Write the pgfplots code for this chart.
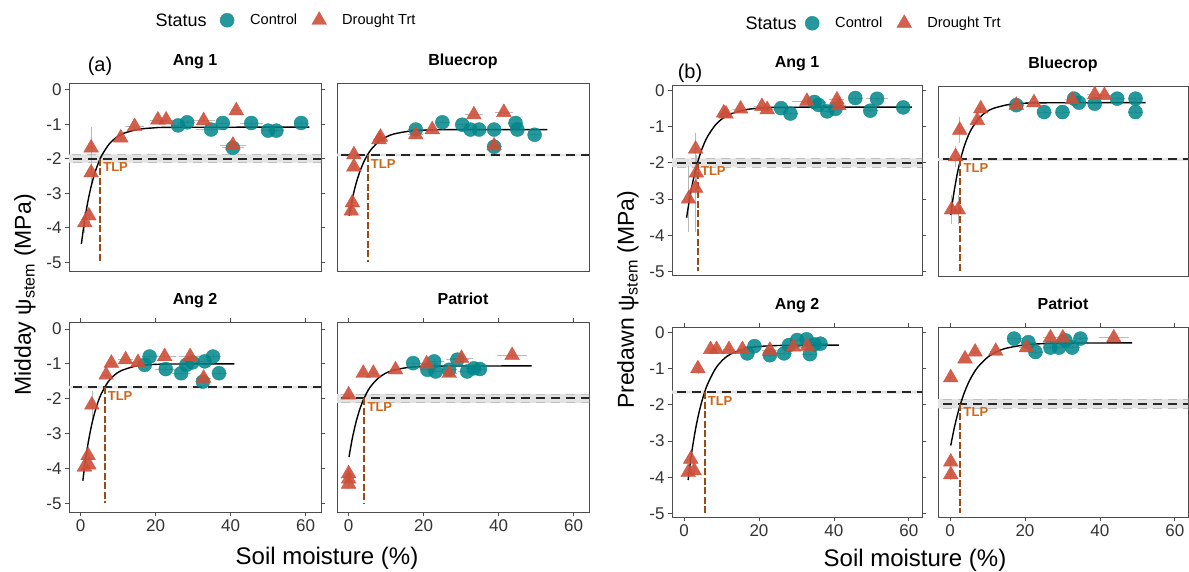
\documentclass[border=0pt]{standalone}
\usepackage{fontspec}
\setmainfont{Liberation Sans}
\usepackage{pgfplots}
\pgfplotsset{compat=1.18}
\definecolor{ctrlc}{RGB}{0,134,139}
\definecolor{trtc}{RGB}{205,79,57}
\definecolor{tlpt}{RGB}{204,102,25}
\definecolor{tlpl}{RGB}{156,74,18}
\definecolor{framec}{RGB}{77,77,77}
\tikzset{tlplab/.style={anchor=north west, xshift=2pt, yshift=-3pt, inner sep=1pt, font=\fontsize{13}{15}\selectfont\bfseries, text=tlpt}}
\pgfplotsset{
  panel/.style={scale only axis, anchor=south west,
    axis line style={framec, line width=0.8pt},
    tick style={framec, line width=0.8pt}, tick align=outside, major tick length=4pt,
    xtick={0,20,40,60}, ytick={0,-1,-2,-3,-4,-5},
    /pgf/number format/assume math mode=true,
    ticklabel style={font=\fontsize{17}{19}\selectfont, text=black!80},
    title style={at={(0.5,1)}, anchor=base, yshift=11pt, font=\fontsize{16}{18}\selectfont\bfseries},
    legend columns=-1, legend cell align=left,
    legend image code/.code={\draw[##1] plot coordinates {(0pt,0pt)}; \path[draw=none, fill=none] (-8pt,-6pt) (21pt,6pt);}},
  pa/.style={panel, width=252pt, xmin=-3.1, xmax=64.1, ymin=-5.25, ymax=0.2},
  pb/.style={panel, width=250pt, height=190pt, xmin=-3.2, xmax=63.5, ymin=-5.1, ymax=0.15},
  ctrl/.style={only marks, mark=*, mark size=7pt, color=ctrlc,
    mark options={fill=ctrlc, draw=ctrlc, opacity=0.85},
    error bars/x dir=both, error bars/x explicit, error bars/y dir=both, error bars/y explicit,
    error bars/error mark=none, error bars/error bar style={gray!55, line width=0.7pt, opacity=1}},
  trt/.style={only marks, mark=triangle*, mark size=8.5pt, color=trtc,
    mark options={fill=trtc, draw=trtc, opacity=0.9},
    error bars/x dir=both, error bars/x explicit, error bars/y dir=both, error bars/y explicit,
    error bars/error mark=none, error bars/error bar style={gray!55, line width=0.7pt, opacity=1}},
  fitc/.style={black, line width=1.4pt, smooth, no marks, forget plot},
  tlph/.style={black!85, line width=2pt, dash pattern=on 9pt off 6pt, no marks, forget plot},
  tlpv/.style={tlpl, line width=2pt, dash pattern=on 7pt off 2.5pt, no marks, forget plot},
  band/.style={draw=gray!50, dash pattern=on 9pt off 6pt, line width=0.8pt, fill=gray!22, no marks, forget plot},
  nband/.style={draw=none, fill=gray!20, no marks, forget plot},
  legst/.style={legend style={draw=none, fill=none, at={#1}, anchor=west, inner sep=0pt,
    font=\fontsize{14.6}{16}\selectfont, /tikz/every even column/.append style={column sep=12pt}}},
}
\begin{document}
\begin{tikzpicture}
\useasboundingbox (0,0) rectangle (1189pt,572pt);

% ===== (a) Ang 1 =====
\begin{axis}[pa, height=188pt, at={(69pt,301pt)}, xtick=\empty, title={Ang 1}, legst={(0.595,1.335)}]
\addplot[band] coordinates {(-10,-2.11) (80,-2.11) (80,-1.87) (-10,-1.87) (-10,-2.11)};
\addplot[ctrl] coordinates {
(26,-1.03) +- (2,0.06) (28.4,-0.94) +- (2,0.06) (34.8,-1.15) +- (4,0.08) (37.9,-0.96) +- (2,0.06)
(40.6,-1.68) +- (3,0.06) (45.5,-0.96) +- (3,0.05) (50,-1.18) +- (2,0.05) (52.2,-1.18) +- (2,0.05)
(58.8,-0.96) +- (2,0.05)};
\addlegendentry{Control}
\addplot[trt] coordinates {
(1.1,-3.85) +- (0.5,0.3) (2.2,-3.65) +- (0.5,0.2) (2.8,-2.4) +- (0.5,0.3) (2.8,-1.68) +- (0.5,0.6)
(10.7,-1.39) +- (1.5,0.08) (14.4,-1.06) +- (2.5,0.08) (20.6,-0.87) +- (2,0.06) (22.8,-0.87) +- (2,0.06)
(32.8,-0.89) +- (3,0.08) (40.6,-1.6) +- (3.5,0.08) (41.5,-0.6) +- (1.5,0.05)};
\addlegendentry{Drought Trt}
\addplot[fitc] coordinates {(0.2,-4.47) (0.958,-3.86) (1.916,-3.245) (2.874,-2.766) (3.831,-2.393) (4.789,-2.103) (5.747,-1.877) (7.663,-1.563) (9.579,-1.373) (11.49,-1.258) (15.33,-1.145) (19.16,-1.104) (24.9,-1.085) (61,-1.08)};
\addplot[tlph] coordinates {(-10,-1.99) (80,-1.99)};
\addplot[tlpv] coordinates {(5.2,-1.99) (5.2,-5)};
\node[tlplab] at (axis cs:5.2,-1.99) {TLP};
\end{axis}

% ===== (a) Bluecrop =====
\begin{axis}[pa, height=188pt, at={(337pt,301pt)}, xtick=\empty, ytick=\empty, title={Bluecrop}]
\addplot[nband] coordinates {(-10,-1.93) (80,-1.93) (80,-1.85) (-10,-1.85) (-10,-1.93)};
\addplot[ctrl] coordinates {
(17.9,-1.15) +- (2,0.06) (25,-0.94) +- (2,0.06) (30.3,-1.01) +- (2,0.06) (32.5,-1.15) +- (2.5,0.06)
(34.8,-1.15) +- (2,0.06) (38.8,-1.15) +- (2,0.06) (38.8,-1.65) +- (2,0.06) (44.5,-0.96) +- (2,0.06)
(45,-1.15) +- (2,0.06) (49.6,-1.30) +- (1.5,0.06)};
\addplot[trt] coordinates {
(0.7,-3.51) +- (0.4,0.15) (1.0,-3.27) +- (0.4,0.15) (1.4,-2.23) +- (0.4,0.1) (1.4,-1.88) +- (0.4,0.1)
(8.1,-1.44) +- (1.5,0.06) (8.5,-1.37) +- (1.5,0.06) (17.9,-1.30) +- (2,0.08) (22.3,-1.15) +- (2,0.06)
(33.4,-0.72) +- (2.5,0.08) (41.4,-0.65) +- (2.5,0.05) (38.8,-1.62) +- (1.5,0.05)};
\addplot[fitc] coordinates {(0.1,-3.647) (1.008,-3.144) (2.016,-2.703) (3.024,-2.359) (4.032,-2.092) (5.04,-1.883) (6.048,-1.721) (8.065,-1.496) (10.08,-1.36) (12.1,-1.277) (16.13,-1.197) (20.16,-1.167) (26.2,-1.154) (53,-1.15)};
\addplot[tlph] coordinates {(-10,-1.89) (80,-1.89)};
\addplot[tlpv] coordinates {(5.1,-1.89) (5.1,-5)};
\node[tlplab] at (axis cs:5.1,-1.89) {TLP};
\end{axis}

% ===== (a) Ang 2 =====
\begin{axis}[pa, height=190pt, at={(69pt,60pt)}, title={Ang 2}]
\addplot[nband] coordinates {(-10,-1.71) (80,-1.71) (80,-1.63) (-10,-1.63) (-10,-1.71)};
\addplot[ctrl] coordinates {
(17.1,-1.03) +- (2,0.06) (18.4,-0.79) +- (2,0.06) (22.7,-1.15) +- (3,0.06) (26.8,-1.27) +- (2.5,0.06)
(28.2,-1.03) +- (2,0.06) (29.8,-0.96) +- (2,0.06) (33.1,-0.93) +- (2,0.06) (35.3,-0.79) +- (2,0.06)
(36.9,-1.27) +- (2,0.06) (32.6,-1.51) +- (1.5,0.06)};
\addplot[trt] coordinates {
(1.0,-3.96) +- (0.4,0.1) (2.2,-3.9) +- (0.4,0.1) (2.0,-3.63) +- (0.4,0.1) (3.0,-2.18) +- (0.4,0.4)
(6.8,-1.32) +- (1,0.08) (8.2,-0.98) +- (1,0.06) (12,-0.88) +- (2,0.06) (15.3,-0.96) +- (2,0.06)
(22.4,-0.79) +- (3,0.06) (29.2,-0.79) +- (3,0.06) (32.8,-1.41) +- (2,0.06)};
\addplot[fitc] coordinates {(0.6,-4.353) (0.901,-4.084) (1.802,-3.402) (2.703,-2.871) (3.604,-2.457) (4.505,-2.135) (5.405,-1.883) (7.207,-1.536) (9.009,-1.325) (10.81,-1.197) (14.41,-1.072) (18.02,-1.027) (23.4,-1.006) (41,-1.0)};
\addplot[tlph] coordinates {(-10,-1.67) (80,-1.67)};
\addplot[tlpv] coordinates {(6.4,-1.67) (6.4,-5)};
\node[tlplab] at (axis cs:6.4,-1.67) {TLP};
\end{axis}

% ===== (a) Patriot =====
\begin{axis}[pa, height=190pt, at={(337pt,60pt)}, ytick=\empty, title={Patriot}]
\addplot[band] coordinates {(-10,-2.12) (80,-2.12) (80,-1.87) (-10,-1.87) (-10,-2.12)};
\addplot[ctrl] coordinates {
(17.2,-0.98) +- (2,0.06) (21,-1.17) +- (2,0.06) (22.8,-0.93) +- (2.5,0.06) (23.2,-1.22) +- (2,0.06)
(26.8,-1.17) +- (2,0.06) (29,-0.88) +- (3,0.06) (31.6,-1.22) +- (2.5,0.06) (33.4,-1.13) +- (2,0.06)
(35,-1.15) +- (2,0.06)};
\addplot[trt] coordinates {
(0,-1.89) +- (0.5,0.1) (0,-4.15) +- (0.3,0.15) (0,-4.3) +- (0.3,0.15) (0,-4.45) +- (0.3,0.15)
(3.9,-1.27) +- (1,0.06) (6.6,-1.27) +- (1,0.06) (12.5,-1.17) +- (1.5,0.06) (20.8,-1.0) +- (3,0.06)
(26.8,-1.27) +- (2,0.06) (30.1,-0.84) +- (3,0.06) (43.6,-0.76) +- (4,0.06)};
\addplot[fitc] coordinates {(0.1,-3.672) (0.969,-3.147) (1.938,-2.685) (2.907,-2.326) (3.876,-2.046) (4.845,-1.828) (5.814,-1.658) (7.752,-1.423) (9.69,-1.28) (11.63,-1.193) (15.5,-1.109) (19.38,-1.078) (25.2,-1.064) (48.8,-1.06)};
\addplot[tlph] coordinates {(-10,-1.99) (80,-1.99)};
\addplot[tlpv] coordinates {(4.2,-1.99) (4.2,-5)};
\node[tlplab] at (axis cs:4.2,-1.99) {TLP};
\end{axis}

% ===== (b) Ang 1 =====
\begin{axis}[pb, at={(672pt,297pt)}, xtick=\empty, title={Ang 1}, legst={(0.528,1.326)}]
\addplot[band] coordinates {(-10,-2.12) (80,-2.12) (80,-1.88) (-10,-1.88) (-10,-2.12)};
\addplot[ctrl] coordinates {
(25.9,-0.49) +- (2,0.05) (28.4,-0.64) +- (2,0.05) (34.8,-0.32) +- (3,0.05) (35.9,-0.40) +- (2,0.05)
(38.2,-0.58) +- (2,0.05) (40.4,-0.51) +- (2,0.05) (45.7,-0.21) +- (2,0.05) (49.7,-0.56) +- (2,0.05)
(51.5,-0.23) +- (3,0.05) (58.5,-0.47) +- (2,0.05)};
\addlegendentry{Control}
\addplot[trt] coordinates {
(1.2,-3.0) +- (0.5,0.9) (3.1,-2.7) +- (0.5,1.2) (3.3,-2.28) +- (0.5,0.5) (3.1,-1.62) +- (0.5,0.45)
(10.6,-0.62) +- (1.5,0.08) (11.2,-0.65) +- (1.5,0.08) (15.1,-0.51) +- (2,0.06) (20.8,-0.44) +- (2,0.06)
(22.2,-0.53) +- (2,0.06) (32.8,-0.30) +- (4,0.05) (40.8,-0.26) +- (2,0.05) (41.3,-0.42) +- (2,0.05)};
\addlegendentry{Drought Trt}
\addplot[fitc] coordinates {(0.7,-3.518) (1.055,-3.271) (2.11,-2.65) (3.165,-2.165) (4.219,-1.788) (5.274,-1.494) (6.329,-1.265) (8.439,-0.948) (10.55,-0.756) (12.66,-0.64) (16.88,-0.526) (21.1,-0.484) (27.4,-0.465) (60.8,-0.46)};
\addplot[tlph] coordinates {(-10,-2.0) (80,-2.0)};
\addplot[tlpv] coordinates {(3.7,-2.0) (3.7,-5)};
\node[tlplab] at (axis cs:3.7,-2.0) {TLP};
\end{axis}

% ===== (b) Bluecrop =====
\begin{axis}[pb, at={(938pt,296pt)}, xtick=\empty, ytick=\empty, title={Bluecrop}]
\addplot[nband] coordinates {(-10,-1.92) (80,-1.92) (80,-1.84) (-10,-1.84) (-10,-1.92)};
\addplot[ctrl] coordinates {
(17.7,-0.38) +- (2,0.05) (25.1,-0.57) +- (2,0.05) (30,-0.57) +- (2,0.05) (33.1,-0.20) +- (2,0.05)
(34.4,-0.31) +- (2,0.05) (38.6,-0.34) +- (2,0.05) (44.6,-0.20) +- (2,0.05) (49.5,-0.20) +- (2,0.05)
(49.5,-0.57) +- (2,0.05)};
\addplot[trt] coordinates {
(0.4,-3.27) +- (0.5,0.4) (2.2,-3.27) +- (0.5,0.4) (1.5,-1.80) +- (0.5,0.3) (2.6,-1.07) +- (0.5,0.35)
(7.3,-0.80) +- (1,0.1) (8.2,-0.48) +- (1,0.08) (17.7,-0.38) +- (2,0.05) (22.4,-0.31) +- (2,0.05)
(32.6,-0.23) +- (2,0.05) (38.6,-0.09) +- (2,0.05) (41.2,-0.11) +- (2,0.05)};
\addplot[fitc] coordinates {(0.2,-3.413) (0.954,-2.857) (1.908,-2.293) (2.863,-1.855) (3.817,-1.513) (4.771,-1.247) (5.725,-1.04) (7.634,-0.752) (9.542,-0.578) (11.45,-0.473) (15.27,-0.37) (19.08,-0.332) (24.8,-0.315) (52.2,-0.31)};
\addplot[tlph] coordinates {(-10,-1.88) (80,-1.88)};
\addplot[tlpv] coordinates {(2.8,-1.88) (2.8,-5)};
\node[tlplab] at (axis cs:2.8,-1.88) {TLP};
\end{axis}

% ===== (b) Ang 2 =====
\begin{axis}[pb, at={(672pt,55pt)}, title={Ang 2}]
\addplot[nband] coordinates {(-10,-1.69) (80,-1.69) (80,-1.61) (-10,-1.61) (-10,-1.69)};
\addplot[ctrl] coordinates {
(16.9,-0.58) +- (2,0.05) (18.8,-0.38) +- (2,0.05) (22.9,-0.63) +- (2,0.05) (26.7,-0.58) +- (2,0.05)
(28,-0.35) +- (2,0.05) (30.2,-0.21) +- (2,0.05) (32.7,-0.19) +- (2,0.05) (33.6,-0.60) +- (2,0.05)
(34.8,-0.33) +- (2,0.05) (36.4,-0.31) +- (2,0.05)};
\addplot[trt] coordinates {
(1.1,-3.87) +- (0.4,0.1) (2.7,-3.82) +- (0.4,0.1) (1.8,-3.5) +- (0.4,0.1) (3.7,-1.0) +- (0.5,0.15)
(7.1,-0.47) +- (1,0.05) (8.7,-0.47) +- (1,0.05) (12,-0.47) +- (1.5,0.05) (15.6,-0.47) +- (1.5,0.05)
(22.9,-0.49) +- (2,0.05) (29.2,-0.40) +- (3,0.05) (32.9,-0.38) +- (3,0.05)};
\addplot[fitc] coordinates {(1.1,-4.078) (2.092,-3.292) (3.138,-2.641) (4.184,-2.134) (5.23,-1.74) (6.276,-1.432) (8.368,-1.006) (10.46,-0.748) (12.55,-0.592) (16.74,-0.439) (20.92,-0.382) (27.2,-0.357) (41.3,-0.35)};
\addplot[tlph] coordinates {(-10,-1.65) (80,-1.65)};
\addplot[tlpv] coordinates {(5.5,-1.65) (5.5,-5)};
\node[tlplab] at (axis cs:5.5,-1.65) {TLP};
\end{axis}

% ===== (b) Patriot =====
\begin{axis}[pb, at={(938pt,55pt)}, ytick=\empty, title={Patriot}]
\addplot[band] coordinates {(-10,-2.1) (80,-2.1) (80,-1.84) (-10,-1.84) (-10,-2.1)};
\addplot[ctrl] coordinates {
(17.1,-0.17) +- (2,0.05) (20.9,-0.27) +- (2,0.05) (22.8,-0.54) +- (2,0.05) (26.8,-0.42) +- (2,0.05)
(29.1,-0.42) +- (2,0.05) (30.8,-0.22) +- (3,0.05) (32.6,-0.42) +- (2,0.05) (34.8,-0.17) +- (2,0.05)};
\addplot[trt] coordinates {
(0.2,-1.25) +- (0.3,0.1) (0.2,-3.58) +- (0.3,0.15) (0.2,-3.93) +- (0.3,0.15) (4,-0.73) +- (1,0.06)
(6.7,-0.54) +- (1,0.06) (12.2,-0.52) +- (1.5,0.05) (20.4,-0.42) +- (2,0.05) (26.8,-0.15) +- (2,0.05)
(30.1,-0.15) +- (2,0.05) (43.7,-0.15) +- (4,0.05)};
\addplot[fitc] coordinates {(0.2,-3.124) (1.25,-2.587) (2.5,-2.079) (3.75,-1.684) (5,-1.375) (6.25,-1.135) (7.5,-0.948) (10,-0.689) (12.5,-0.532) (15,-0.437) (20,-0.344) (25,-0.31) (32.5,-0.294) (48.6,-0.29)};
\addplot[tlph] coordinates {(-10,-1.97) (80,-1.97)};
\addplot[tlpv] coordinates {(2.8,-1.97) (2.8,-5)};
\node[tlplab] at (axis cs:2.8,-1.97) {TLP};
\end{axis}

% ===== texts =====
\node[anchor=base west, font=\fontsize{18}{20}\selectfont] at (152pt,545pt) {Status};
\node[anchor=base west, font=\fontsize{18}{20}\selectfont] at (742pt,542pt) {Status};
\node[font=\fontsize{20}{22}\selectfont] at (100pt,506pt) {(a)};
\node[font=\fontsize{20}{22}\selectfont] at (690pt,499pt) {(b)};
\node[rotate=90, font=\fontsize{23}{25}\selectfont] at (25pt,277pt) {Midday ψ\textsubscript{stem} (MPa)};
\node[rotate=90, font=\fontsize{23}{25}\selectfont] at (628pt,272pt) {Predawn ψ\textsubscript{stem} (MPa)};
\node[anchor=base, font=\fontsize{24}{26}\selectfont] at (327pt,7pt) {Soil moisture (\%)};
\node[anchor=base, font=\fontsize{24}{26}\selectfont] at (915pt,5pt) {Soil moisture (\%)};
\end{tikzpicture}
\end{document}
